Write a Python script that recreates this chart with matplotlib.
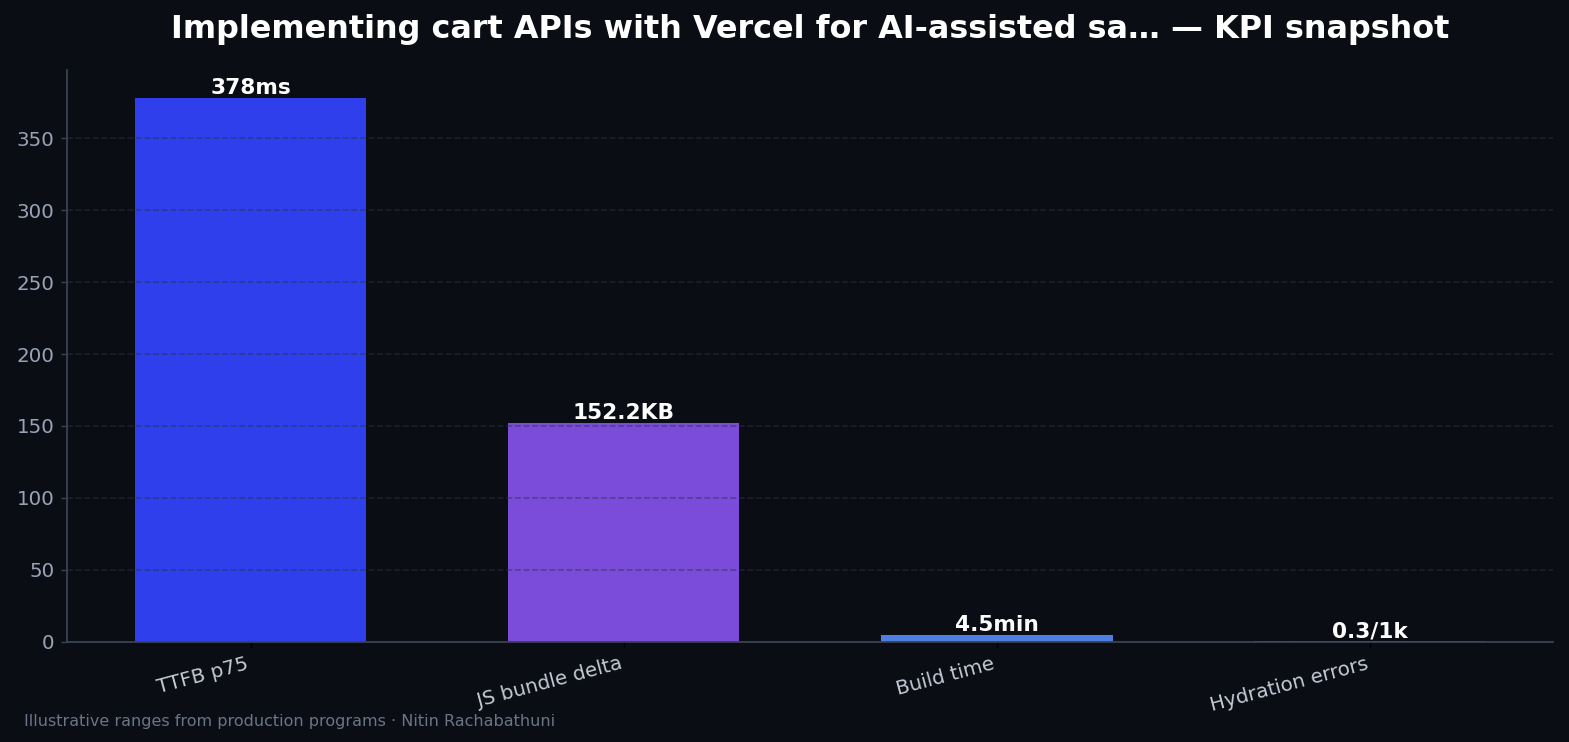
import matplotlib
matplotlib.use("Agg")
import matplotlib.pyplot as plt

categories = ["TTFB p75", "JS bundle delta", "Build time", "Hydration errors"]
values = [378, 152.2, 4.5, 0.3]
value_labels = ["378ms", "152.2KB", "4.5min", "0.3/1k"]
colors = ["#2f3fec", "#7b4bd9", "#4f7fe0", "#3fb8c8"]

bg = "#0a0d14"

fig, ax = plt.subplots(figsize=(1569 / 130, 742 / 130), dpi=130)
fig.patch.set_facecolor(bg)
ax.set_facecolor(bg)

bars = ax.bar(categories, values, width=0.62, color=colors, zorder=2)
for b, lab in zip(bars, value_labels):
    ax.text(b.get_x() + b.get_width() / 2, b.get_height(), lab,
            ha="center", va="bottom", color="white", fontsize=12, fontweight="bold")

ax.set_ylim(0, 397)
ax.yaxis.grid(True, linestyle="--", color="#2a3346", linewidth=0.9, alpha=0.5)
ax.set_axisbelow(False)
for gl in ax.get_ygridlines():
    gl.set_zorder(3)

for s in ["top", "right"]:
    ax.spines[s].set_visible(False)
for s in ["left", "bottom"]:
    ax.spines[s].set_color("#3a4252")
    ax.spines[s].set_linewidth(1.0)
    ax.spines[s].set_zorder(4)

ax.tick_params(axis="y", colors="#3a4252", labelcolor="#98a2b4", labelsize=11)
ax.tick_params(axis="x", colors="#000000", labelcolor="#c5cad6", labelsize=11)
plt.setp(ax.get_xticklabels(), rotation=15, ha="right")

ax.set_title("Implementing cart APIs with Vercel for AI-assisted sa\u2026 \u2014 KPI snapshot",
             color="white", fontsize=17.7, fontweight="bold", pad=18)

fig.text(0.015, 0.022, "Illustrative ranges from production programs \u00b7 Nitin Rachabathuni",
         color="#6b7486", fontsize=8.9)

plt.subplots_adjust(left=0.043, right=0.99, top=0.905, bottom=0.135)
plt.savefig("out.png", facecolor=bg)
